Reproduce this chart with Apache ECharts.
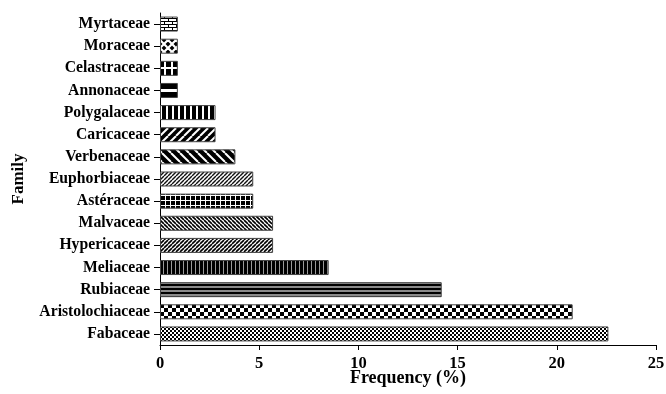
<!DOCTYPE html>
<html>
<head>
<meta charset="utf-8">
<script src="https://cdn.jsdelivr.net/npm/echarts@6/dist/echarts.min.js"></script>
<style>
  html, body { margin: 0; padding: 0; background: #fff; }
  #chart { width: 666px; height: 394px; }
</style>
</head>
<body>
<div id="chart"></div>
<script>
// categories bottom -> top (category axis draws first item at the bottom)
const families = ['Fabaceae', 'Aristolochiaceae', 'Rubiaceae', 'Meliaceae', 'Hypericaceae', 'Malvaceae',
  'Astéraceae', 'Euphorbiaceae', 'Verbenaceae', 'Caricaceae', 'Polygalaceae', 'Annonaceae',
  'Celastraceae', 'Moraceae', 'Myrtaceae'];
const frequency = [22.6, 20.8, 14.2, 8.5, 5.7, 5.7, 4.7, 4.7, 3.8, 2.8, 2.8, 0.9, 0.9, 0.9, 0.9];
const xTicks = [0, 5, 10, 15, 20, 25];

// small canvas tiles used as bar fills
function tile(w, h, bg, draw, repeat) {
  const c = document.createElement('canvas');
  c.width = w; c.height = h;
  const g = c.getContext('2d');
  g.fillStyle = bg;
  g.fillRect(0, 0, w, h);
  draw(g, w, h);
  return { image: c, repeat: repeat || 'repeat' };
}
function diag(dir, size, bg, fg, lw) {
  return tile(size, size, bg, (g, w, h) => {
    g.strokeStyle = fg; g.lineWidth = lw;
    for (let k = -1; k <= 1; k++) {
      g.beginPath();
      if (dir === '/') { g.moveTo(k * w, h); g.lineTo(k * w + w, 0); }
      else { g.moveTo(k * w, 0); g.lineTo(k * w + w, h); }
      g.stroke();
    }
  });
}

const fills = {
  'Fabaceae': tile(4, 4, '#fff', (g) => { g.fillStyle = '#000'; g.fillRect(0, 0, 2, 2); g.fillRect(2, 2, 2, 2); }),
  'Aristolochiaceae': tile(8, 8, '#fff', (g) => { g.fillStyle = '#000'; g.fillRect(0, 0, 4, 4); g.fillRect(4, 4, 4, 4); }),
  'Rubiaceae': tile(4, 4, '#000', (g) => { g.fillStyle = '#8a8a8a'; g.fillRect(0, 2, 4, 2); }),
  'Meliaceae': tile(4, 4, '#000', (g) => { g.fillStyle = '#9a9a9a'; g.fillRect(3, 0, 1, 4); }),
  'Hypericaceae': diag('/', 4, '#fff', '#000', 1.6),
  'Malvaceae': diag('\\', 4, '#fff', '#000', 1.6),
  'Astéraceae': tile(5, 5, '#000', (g) => { g.fillStyle = '#fff'; g.fillRect(0, 0, 5, 1); g.fillRect(0, 0, 1, 5); }),
  'Euphorbiaceae': diag('/', 4, '#fff', '#111', 1.4),
  'Verbenaceae': diag('\\', 9, '#000', '#fff', 2),
  'Caricaceae': diag('/', 8, '#000', '#fff', 2),
  'Polygalaceae': tile(6, 6, '#fff', (g) => { g.fillStyle = '#000'; g.fillRect(0, 0, 4, 6); }),
  'Moraceae': tile(8, 8, '#000', (g, w, h) => {
    g.strokeStyle = '#fff'; g.lineWidth = 2.2;
    for (let k = -1; k <= 1; k++) {
      g.beginPath(); g.moveTo(k * w, 0); g.lineTo(k * w + w, h); g.stroke();
      g.beginPath(); g.moveTo(k * w, h); g.lineTo(k * w + w, 0); g.stroke();
    }
  }),
  'Myrtaceae': tile(8, 6, '#fff', (g) => {
    g.fillStyle = '#000';
    g.fillRect(0, 0, 8, 1); g.fillRect(0, 3, 8, 1);
    g.fillRect(0, 0, 1, 3); g.fillRect(4, 3, 1, 3);
  })
};

const font = 'Liberation Serif';
const chart = echarts.init(document.getElementById('chart'));

function buildOption() {
  return {
    animation: false,
    grid: { left: 160, right: 10, top: 13, bottom: 49, containLabel: false, outerBoundsMode: 'none' },
    xAxis: {
      type: 'value',
      min: 0, max: 25, interval: 5,
      name: 'Frequency (%)',
      nameLocation: 'middle',
      nameGap: 24,
      nameMoveOverlap: false,
      nameTextStyle: { fontFamily: font, fontWeight: 'bold', fontSize: 18, color: '#000' },
      axisLine: { show: true, lineStyle: { color: '#000', width: 1 } },
      axisTick: { show: true, length: 5, lineStyle: { color: '#000' } },
      axisLabel: {
        margin: 10, fontFamily: font, fontWeight: 'bold', fontSize: 16.5, color: '#000',
        formatter: (v) => (xTicks.indexOf(v) >= 0 ? String(v) : '')
      },
      splitLine: { show: false }
    },
    yAxis: {
      type: 'category',
      data: families,
      name: 'Family',
      nameLocation: 'middle',
      nameRotate: 90,
      nameGap: 133,
      nameMoveOverlap: false,
      nameTextStyle: { fontFamily: font, fontWeight: 'bold', fontSize: 17, color: '#000' },
      axisLine: { show: true, lineStyle: { color: '#000', width: 1 } },
      axisTick: { show: true, alignWithLabel: true, length: 6, lineStyle: { color: '#000' } },
      axisLabel: { margin: 10, fontFamily: font, fontWeight: 'bold', fontSize: 15.7, color: '#000' }
    },
    series: [{
      type: 'bar',
      barWidth: 15,
      data: frequency.map((v, i) => ({
        value: v,
        itemStyle: { color: fills[families[i]] || '#000', borderColor: '#444', borderWidth: 1 }
      }))
    }]
  };
}

chart.setOption(buildOption());

// patterns that must line up with their bar (single white stripe / cross through the middle)
const yAnn = Math.round(chart.convertToPixel({ yAxisIndex: 0 }, 'Annonaceae'));
fills['Annonaceae'] = tile(8, yAnn + 12, '#000', (g) => { g.fillStyle = '#fff'; g.fillRect(0, yAnn - 1, 8, 3); }, 'repeat-x');
const yCel = Math.round(chart.convertToPixel({ yAxisIndex: 0 }, 'Celastraceae'));
fills['Celastraceae'] = tile(7, yCel + 12, '#000', (g) => {
  g.fillStyle = '#fff'; g.fillRect(0, yCel - 1, 7, 2); g.fillRect(3, 0, 2, yCel + 12);
}, 'repeat-x');
chart.setOption(buildOption());
</script>
</body>
</html>
